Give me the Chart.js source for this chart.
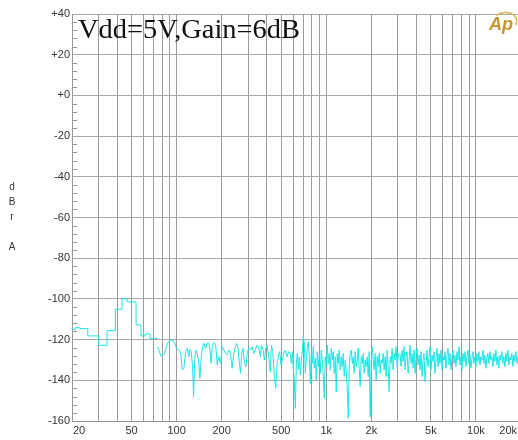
<!DOCTYPE html>
<html lang="en">
<head>
<meta charset="UTF-8">
<title>Vdd=5V, Gain=6dB FFT</title>
<script src="https://cdn.jsdelivr.net/npm/chart.js"></script>
<style>
    html, body { margin: 0; padding: 0; background: #ffffff; overflow: hidden; }
    #wrap { width: 524px; height: 440px; }
</style>
</head>
<body>
<div id="wrap"><canvas id="fft" width="524" height="440"></canvas></div>
<script>
// vertical grid lines (Hz) and the labelled ones
const gridFreqs = [20, 30, 40, 50, 60, 70, 80, 90, 100, 200, 300, 400, 500, 600, 700, 800, 900,
    1000, 2000, 3000, 4000, 5000, 6000, 7000, 8000, 9000, 10000, 20000];
const labelFreqs = [20, 50, 100, 200, 500, 1000, 2000, 5000, 10000, 20000];
const labelNames = ['20', '50', '100', '200', '500', '1k', '2k', '5k', '10k', '20k'];

// low end of the FFT, drawn as steps (Hz / dBrA)
const stepFreq = [20, 21.1, 22.5, 25.5, 30.2, 34.3, 39.0, 43.2, 46.7, 53.6, 57.8, 61.8, 66.4, 71.0, 74.7];
const stepDb = [-115.6, -114.9, -114.1, -114.6, -118.2, -122.8, -115.6, -105.1, -100.0, -101.5, -112.8, -118.2, -117.2, -119.4, -119.4];

// 75 Hz .. 560 Hz
const midFreq = [74.7, 78.6, 82.8, 87.1, 91.6, 96.5, 100,
    106.3, 109.1, 111.9, 114.8, 117.8, 120.8, 122.7, 125.2, 127.8, 129.8,
    132.4, 135.2, 137.3, 140.9, 143.1, 146.0, 149.0, 152.1, 156.0, 160.1,
    164.2, 166.8, 170.2, 172.8, 175.5, 179.1, 182.8, 186.7, 191.5, 196.4,
    201.5, 206.8, 212.1, 217.6, 223.2, 229.0, 234.9, 241.1, 247.3, 251.1,
    256.3, 261.6, 267.0, 272.5, 278.2, 283.9, 291.3, 295.8, 303.5, 311.4,
    319.4, 327.7, 336.1, 344.9, 353.8, 363.0, 368.5, 378.1, 386.0, 394.0,
    402.1, 412.6, 423.2, 429.9, 438.7, 450.0, 459.3, 468.8, 478.5, 488.3,
    498.5, 508.8, 519.3, 532.8, 546.4, 560.7];
const midDb = [-123.5, -128.1, -127.1, -121.5, -120.2, -121.0, -124.3,
    -125.9, -134.9, -134.1, -125.9, -124.3, -128.4, -124.8, -125.9, -133.3, -148.0,
    -128.4, -125.1, -126.8, -131.7, -139.0, -128.4, -123.5, -121.8, -124.3, -121.8,
    -121.8, -125.1, -131.7, -123.5, -121.8, -121.5, -123.5, -132.5, -128.4, -131.7,
    -123.5, -125.1, -126.8, -127.6, -125.1, -126.8, -134.1, -126.8, -123.5, -121.8,
    -123.5, -130.0, -136.6, -126.8, -124.3, -131.7, -133.3, -126.8, -124.3, -125.1,
    -123.5, -126.8, -125.1, -122.7, -124.3, -128.4, -122.7, -125.1, -130.0, -124.3,
    -122.7, -128.4, -135.8, -122.7, -125.9, -138.2, -143.9, -131.7, -128.4, -125.9,
    -132.5, -130.0, -126.8, -125.1, -128.4, -125.9];

// 575 Hz .. 3 kHz
const hiFreq = [575.4, 584.3, 593.3, 602.5, 611.8, 621.3, 630.9, 640.7, 650.6, 660.7,
    670.9, 681.3, 691.8, 702.5, 713.4, 724.4, 735.6, 747.0, 758.6, 770.3,
    782.2, 794.3, 806.6, 819.1, 831.8, 844.6, 857.7, 871.0, 884.5, 898.2,
    912.1, 926.1, 940.5, 955.0, 969.8, 984.8, 1000, 1016, 1031, 1047,
    1063, 1080, 1096, 1113, 1131, 1148, 1166, 1184, 1202, 1221,
    1240, 1259, 1278, 1298, 1318, 1339, 1359, 1380, 1402, 1423,
    1445, 1468, 1491, 1514, 1537, 1561, 1585, 1609, 1634, 1660,
    1685, 1711, 1738, 1765, 1792, 1820, 1848, 1876, 1906, 1935,
    1965, 1995, 2026, 2058, 2089, 2122, 2154, 2188, 2222, 2256,
    2291, 2326, 2362, 2399, 2436, 2474, 2512, 2551, 2590, 2630,
    2671, 2712, 2754, 2797, 2840, 2884, 2929, 2974, 3020, 3067];
const hiDb = [-126.8, -131.7, -125.9, -134.9, -139.9, -153.8, -131.7, -126.8, -134.9, -128.4,
    -137.4, -130.8, -125.1, -118.6, -121.8, -136.6, -129.2, -124.3, -121.0, -128.4,
    -141.5, -126.8, -131.7, -123.5, -134.1, -129.2, -139.9, -125.9, -133.3, -127.6,
    -136.6, -125.1, -130.0, -138.2, -148.9, -128.4, -133.3, -122.7, -131.7, -126.8,
    -134.9, -124.3, -130.0, -125.9, -136.6, -128.4, -145.6, -126.8, -131.7, -125.1,
    -134.9, -128.4, -133.3, -126.8, -138.2, -130.0, -134.9, -143.1, -158.7, -133.3,
    -126.8, -125.1, -131.7, -128.4, -136.6, -125.9, -133.3, -130.0, -124.3, -134.9,
    -143.1, -128.4, -131.7, -126.8, -136.6, -130.0, -133.3, -128.4, -138.2, -125.9,
    -157.9, -131.7, -123.5, -130.0, -134.9, -126.8, -139.9, -128.4, -133.3, -126.8,
    -136.6, -130.0, -131.7, -126.8, -134.9, -128.4, -138.2, -125.1, -133.3, -145.6,
    -128.4, -131.7, -124.3, -134.9, -126.8, -130.0, -123.5, -133.3, -128.4, -126.8];

// 3.1 kHz .. 20 kHz
const topFreq = [3113, 3161, 3210, 3260, 3310, 3362, 3414, 3466, 3520, 3575,
    3630, 3686, 3743, 3801, 3860, 3919, 3980, 4042, 4104, 4168,
    4232, 4298, 4364, 4432, 4500, 4570, 4641, 4712, 4785, 4859,
    4934, 5011, 5088, 5167, 5247, 5328, 5410, 5494, 5579, 5665,
    5753, 5842, 5932, 6024, 6117, 6212, 6308, 6406, 6505, 6605,
    6708, 6811, 6917, 7024, 7133, 7243, 7355, 7469, 7584, 7701,
    7821, 7942, 8064, 8189, 8316, 8444, 8575, 8708, 8842, 8979,
    9118, 9259, 9402, 9548, 9695, 9845, 9998, 10152, 10309, 10469,
    10631, 10795, 10962, 11132, 11304, 11479, 11656, 11837, 12020, 12206,
    12395, 12586, 12781, 12979, 13180, 13383, 13590, 13801, 14014, 14231,
    14451, 14675, 14902, 15132, 15366, 15604, 15845, 16090, 16339, 16592,
    16849, 17109, 17374, 17643, 17916, 18193, 18474, 18760, 19050, 19345,
    19645, 20000];
const topDb = [-126.8, -133.3, -125.1, -130.8, -123.5, -134.9, -128.4, -125.9, -136.6, -130.0,
    -122.7, -131.7, -126.8, -134.1, -125.1, -136.6, -129.2, -124.3, -132.5, -127.6,
    -134.9, -125.9, -138.2, -130.0, -126.8, -140.7, -131.7, -125.1, -133.3, -128.4,
    -123.5, -134.9, -127.6, -130.8, -125.9, -136.6, -129.2, -124.3, -133.3, -126.8,
    -131.7, -125.1, -134.9, -128.4, -130.0, -125.9, -134.1, -127.6, -124.3, -132.5,
    -126.8, -134.9, -129.2, -125.1, -131.7, -127.6, -133.3, -125.9, -130.0, -123.5,
    -132.5, -128.4, -134.9, -126.8, -130.8, -125.9, -133.3, -128.4, -125.1, -131.7,
    -127.6, -134.1, -129.2, -125.9, -131.7, -128.4, -133.3, -126.8, -130.8, -125.9,
    -132.5, -128.4, -130.0, -125.1, -131.7, -127.6, -134.1, -129.2, -126.8, -131.7,
    -125.9, -130.0, -128.4, -133.3, -126.8, -130.8, -125.1, -132.5, -128.4, -134.1,
    -127.6, -130.0, -125.9, -131.7, -128.4, -133.3, -126.8, -130.8, -125.1, -132.5,
    -128.4, -130.0, -126.8, -133.3, -127.6, -130.8, -125.9, -131.7, -128.4, -130.0,
    -127.6, -129.2];

const traceColor = '#1de6e6';

function toPoints(fs, ds) {
    return fs.map((f, i) => ({ x: f, y: ds[i] }));
}
const noiseFreq = midFreq.concat(hiFreq, topFreq);
const noiseDb = midDb.concat(hiDb, topDb);

// title, axis name, minor ticks, x labels, logo
const decorations = {
    id: 'decorations',
    afterDraw(chart) {
        const { ctx, chartArea, scales } = chart;
        const x = scales.x, y = scales.y;
        ctx.save();

        // minor ticks every 4 dB, inside the plot
        ctx.strokeStyle = '#9a9a9a';
        ctx.lineWidth = 1;
        for (let v = -160; v <= 40; v += 4) {
            if (v % 20 === 0) continue;
            const py = Math.round(y.getPixelForValue(v)) + 0.5;
            ctx.beginPath();
            ctx.moveTo(chartArea.left, py);
            ctx.lineTo(chartArea.left + 5, py);
            ctx.stroke();
        }

        // frequency labels
        ctx.fillStyle = '#333333';
        ctx.font = '11px Arial, "Liberation Sans", sans-serif';
        ctx.textBaseline = 'middle';
        labelFreqs.forEach((f, i) => {
            let px = x.getPixelForValue(f);
            if (i === 0) { ctx.textAlign = 'left'; px = chartArea.left + 1; }
            else if (i === labelFreqs.length - 1) { ctx.textAlign = 'right'; px = 517; }
            else ctx.textAlign = 'center';
            ctx.fillText(labelNames[i], px, 431);
        });

        // stacked y axis name
        ctx.textAlign = 'center';
        ctx.font = '10px Arial, "Liberation Sans", sans-serif';
        ctx.fillText('d', 12, 187);
        ctx.fillText('B', 12, 202);
        ctx.fillText('r', 12, 217);
        ctx.fillText('A', 12, 247);

        // title inside the plot
        const title = 'Vdd=5V,Gain=6dB';
        ctx.font = '27px "Liberation Serif", "DejaVu Serif", serif';
        ctx.fillStyle = '#111111';
        ctx.textAlign = 'left';
        ctx.textBaseline = 'alphabetic';
        const w = ctx.measureText(title).width;
        ctx.save();
        ctx.translate(78, 38);
        ctx.scale(222 / w, 1);
        ctx.fillText(title, 0, 0);
        ctx.restore();

        // Ap logo
        ctx.strokeStyle = '#d8b45a';
        ctx.lineWidth = 1.5;
        ctx.beginPath();
        ctx.ellipse(503, 23, 14, 10, -0.3, -1.9, 0.6);
        ctx.stroke();
        ctx.fillStyle = '#c4982f';
        ctx.font = 'italic bold 18px "Liberation Sans", Arial, sans-serif';
        ctx.fillText('Ap', 489, 30);

        ctx.restore();
    }
};

new Chart(document.getElementById('fft'), {
    type: 'line',
    data: {
        datasets: [
            {
                data: toPoints(stepFreq, stepDb),
                stepped: 'after',
                borderColor: traceColor,
                borderWidth: 1,
                pointRadius: 0,
                fill: false
            },
            {
                data: toPoints(noiseFreq, noiseDb),
                borderColor: traceColor,
                borderWidth: 1,
                pointRadius: 0,
                tension: 0,
                fill: false
            }
        ]
    },
    options: {
        responsive: false,
        animation: false,
        events: [],
        layout: { padding: { left: 0, right: 3, top: 14, bottom: 0 } },
        plugins: { legend: { display: false }, tooltip: { enabled: false } },
        scales: {
            x: {
                type: 'logarithmic',
                min: 20,
                max: 20000,
                afterBuildTicks: s => { s.ticks = gridFreqs.map(v => ({ value: v })); },
                afterFit: s => { s.height = 19; },
                ticks: { display: false },
                grid: { color: '#9a9a9a', lineWidth: 1, drawTicks: false },
                border: { color: '#9a9a9a' }
            },
            y: {
                min: -160,
                max: 40,
                afterFit: s => { s.width = 72; },
                ticks: {
                    stepSize: 20,
                    padding: 2,
                    color: '#333333',
                    font: { family: 'Arial, "Liberation Sans", sans-serif', size: 11 },
                    callback: v => (v >= 0 ? '+' + v : String(v))
                },
                grid: { color: '#a8a8a8', lineWidth: 1, drawTicks: false },
                border: { color: '#9a9a9a' }
            }
        }
    },
    plugins: [decorations]
});
</script>
</body>
</html>
